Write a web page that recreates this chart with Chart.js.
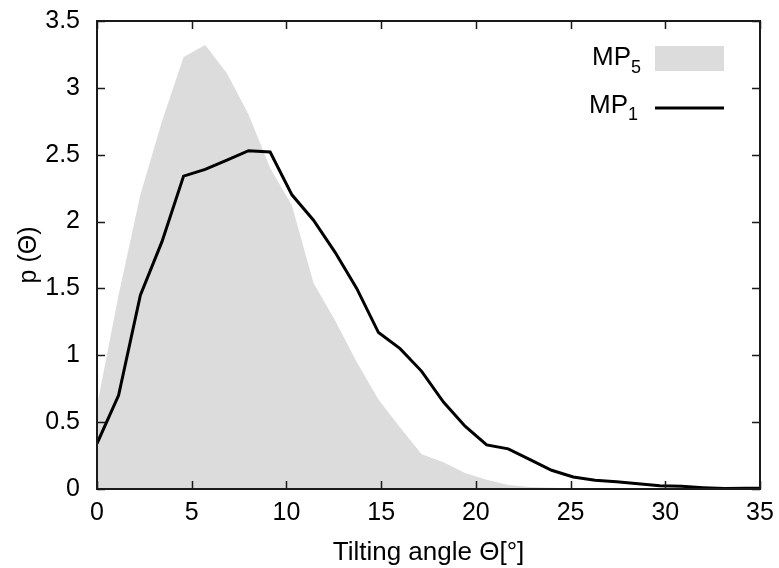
<!DOCTYPE html>
<html>
<head>
<meta charset="utf-8">
<script src="https://cdn.jsdelivr.net/npm/chart.js@4.4.1/dist/chart.umd.min.js"></script>
<style>
  html, body { margin: 0; padding: 0; background: #fff; }
  .wrap { width: 779px; height: 568px; position: relative; }
</style>
</head>
<body>
<div class="wrap"><canvas id="myChart"></canvas></div>
<script>
// tilting angle (deg) of each histogram bin
let angles = [0, 1.14, 2.29, 3.43, 4.57, 5.71, 6.86, 8.0, 9.14, 10.29, 11.43, 12.57, 13.71, 14.86, 16.0, 17.14,
    18.29, 19.43, 20.57, 21.71, 22.86, 24.0, 25.14, 26.29, 27.43, 28.57, 29.71, 30.86, 32.0, 33.14, 34.29, 35]
let mp5 = [0.62, 1.45, 2.2, 2.75, 3.23, 3.32, 3.11, 2.80, 2.40, 2.12, 1.54, 1.26, 0.95, 0.67, 0.46, 0.26,
    0.20, 0.12, 0.07, 0.03, 0.015, 0.01, 0.005, 0.002, 0, 0, 0, 0, 0, 0, 0, 0]
let mp1 = [0.34, 0.70, 1.45, 1.85, 2.34, 2.39, 2.46, 2.53, 2.52, 2.20, 2.01, 1.77, 1.50, 1.17, 1.05, 0.88,
    0.65, 0.47, 0.33, 0.30, 0.22, 0.14, 0.09, 0.065, 0.055, 0.04, 0.025, 0.02, 0.01, 0.003, 0.005, 0.005]
let xTicks = [0, 5, 10, 15, 20, 25, 30, 35]
let yTicks = [0, 0.5, 1, 1.5, 2, 2.5, 3, 3.5]

const FONT = '"Liberation Sans", Arial, sans-serif'
const GREY = '#dcdcdc'
Chart.defaults.color = '#000'
Chart.defaults.font.family = FONT

let toPoints = (vals) => vals.map((v, i) => ({ x: angles[i], y: v }))

// gnuplot style box: inward ticks on all sides + key
const frame = {
    id: 'frame',
    afterDatasetsDraw(chart) {
        const { ctx, chartArea: a, scales: { x, y } } = chart
        const tl = 8
        ctx.save()
        ctx.strokeStyle = '#1a1a1a'
        ctx.lineWidth = 1.5
        ctx.beginPath()
        xTicks.forEach(v => {
            let px = Math.round(x.getPixelForValue(v)) + 0.5
            ctx.moveTo(px, a.bottom); ctx.lineTo(px, a.bottom - tl)
            ctx.moveTo(px, a.top); ctx.lineTo(px, a.top + tl)
        })
        yTicks.forEach(v => {
            let py = Math.round(y.getPixelForValue(v)) + 0.5
            ctx.moveTo(a.left, py); ctx.lineTo(a.left + tl, py)
            ctx.moveTo(a.right, py); ctx.lineTo(a.right - tl, py)
        })
        ctx.stroke()
        ctx.lineWidth = 2
        ctx.strokeRect(a.left, a.top, a.right - a.left, a.bottom - a.top)

        // key
        let kx = a.right - 105
        ctx.fillStyle = '#000'
        ctx.textAlign = 'right'
        ctx.textBaseline = 'alphabetic'
        ctx.font = '26px ' + FONT
        ctx.fillText('MP', kx - 24, a.top + 44)
        ctx.fillText('MP', kx - 27, a.top + 92)
        ctx.font = '18px ' + FONT
        ctx.fillText('5', kx - 14, a.top + 52)
        ctx.fillText('1', kx - 17, a.top + 99)
        ctx.fillStyle = GREY
        ctx.fillRect(kx, a.top + 25, 69, 25)
        ctx.strokeStyle = '#000'
        ctx.lineWidth = 3
        ctx.beginPath()
        ctx.moveTo(kx, a.top + 87); ctx.lineTo(kx + 69, a.top + 87)
        ctx.stroke()
        ctx.restore()
    }
}

let ctx = document.querySelector('#myChart').getContext('2d')
let myChart = new Chart(ctx, {
    type: 'line',
    data: {
        datasets: [{
            label: 'MP1',
            data: toPoints(mp1),
            borderColor: '#000',
            borderWidth: 3,
            fill: false,
            pointRadius: 0,
            tension: 0
        }, {
            label: 'MP5',
            data: toPoints(mp5),
            borderWidth: 0,
            borderColor: GREY,
            backgroundColor: GREY,
            fill: 'origin',
            pointRadius: 0,
            tension: 0
        }]
    },
    options: {
        responsive: true,
        maintainAspectRatio: false,
        animation: false,
        layout: { padding: { top: 21, right: 19, left: 0, bottom: 0 } },
        plugins: {
            legend: { display: false },
            tooltip: { enabled: false }
        },
        scales: {
            x: {
                type: 'linear',
                min: 0,
                max: 35,
                afterFit: (s) => { s.height = 79; s.paddingLeft = 0; s.paddingRight = 0 },
                afterBuildTicks: (s) => { s.ticks = xTicks.map(v => ({ value: v })) },
                grid: { display: false, drawTicks: false },
                border: { display: false },
                ticks: { padding: 9, font: { size: 25 }, maxRotation: 0, autoSkip: false, callback: (v) => String(v) },
                title: { display: true, text: 'Tilting angle Θ[°]', font: { size: 26 }, padding: { top: 3, bottom: 0 } }
            },
            y: {
                min: 0,
                max: 3.5,
                afterFit: (s) => { s.width = 97; s.paddingTop = 0; s.paddingBottom = 0 },
                afterBuildTicks: (s) => { s.ticks = yTicks.map(v => ({ value: v })) },
                grid: { display: false, drawTicks: false },
                border: { display: false },
                ticks: { padding: 17, font: { size: 25 }, autoSkip: false, callback: (v) => String(v) },
                title: { display: true, text: 'p (Θ)', font: { size: 25 }, padding: { top: 14, bottom: 0 } }
            }
        }
    },
    plugins: [frame]
})
</script>
</body>
</html>
